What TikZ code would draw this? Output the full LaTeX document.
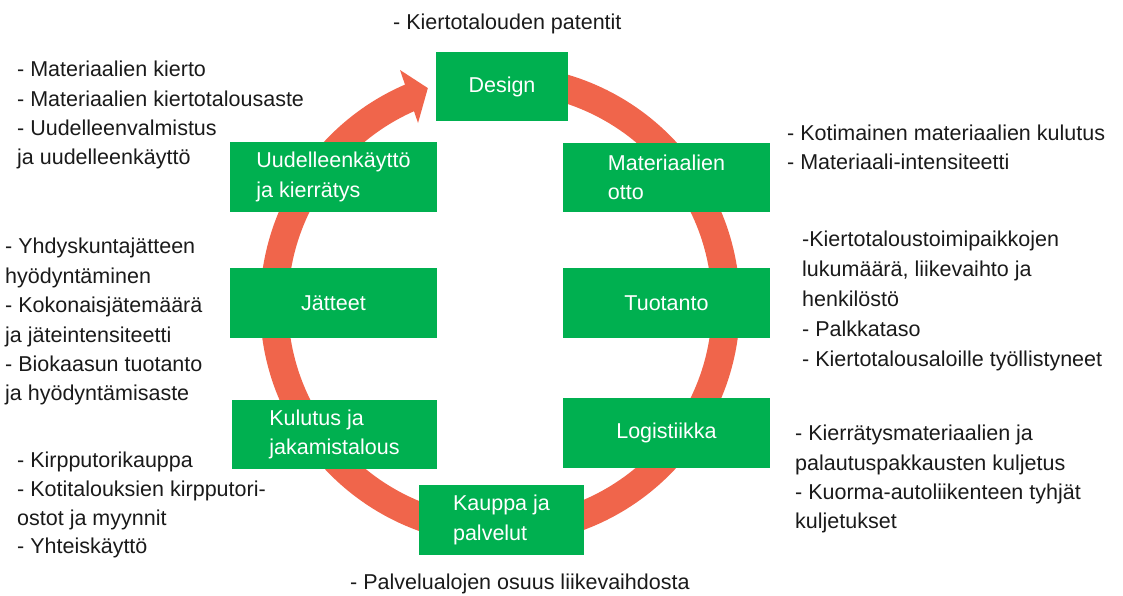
\documentclass[tikz,border=0pt]{standalone}
\usepackage{fontspec}
\setmainfont{Liberation Sans}
\definecolor{boxgreen}{HTML}{00B050}
\definecolor{ringcol}{HTML}{F0654B}
\definecolor{notecol}{HTML}{1A1A1A}
\begin{document}
\begin{tikzpicture}[x=1pt,y=1pt,
  font=\fontsize{21.5}{29.4}\selectfont,
  box/.style={fill=boxgreen, text=white, inner sep=0pt, align=left,
              minimum width=207pt, minimum height=70pt},
  note/.style={anchor=base west, align=left, inner sep=0pt, text=notecol},
  ring/.style={draw=ringcol, line width=28pt}]
\useasboundingbox (0,0) rectangle (1123,596);

% circular flow arrow
\coordinate (c) at (500,291);
\draw[ring] ([shift={(92:226)}]c) arc[start angle=92, end angle=-246.8, radius=226];
\fill[ringcol] ([shift={(113.05:255.4)}]c) -- ([shift={(108.4:228.6)}]c)
  -- ([shift={(114.25:199.6)}]c) -- cycle;

% stage boxes
\node[box, minimum width=132pt, minimum height=69pt] (design) at (502,509.5) {Design};
\node[box] (reuse) at (333.5,419) {Uudelleenkäyttö\\ja kierrätys};
\node[box, minimum height=69pt] (extract) at (666.5,418.5) {Materiaalien\\otto};
\node[box] (waste) at (333.5,293) {Jätteet};
\node[box] (prod) at (666.5,293) {Tuotanto};
\node[box, minimum width=205pt, minimum height=69pt] (consume) at (334.5,161.5) {Kulutus ja\\jakamistalous};
\node[box] (logi) at (666.5,163) {Logistiikka};
\node[box, minimum width=165pt] (trade) at (501.5,76) {Kauppa ja\\palvelut};

% indicator notes (anchored at the baseline of their last line)
\node[note] (n1) at (393,566) {- Kiertotalouden patentit};
\node[note] (n2) at (17,431) {- Materiaalien kierto\\- Materiaalien kiertotalousaste\\- Uudelleenvalmistus\\ja uudelleenkäyttö};
\node[note] (n3) at (5,195) {- Yhdyskuntajätteen\\hyödyntäminen\\- Kokonaisjätemäärä\\ja jäteintensiteetti\\- Biokaasun tuotanto\\ja hyödyntämisaste};
\node[note, font=\fontsize{21.5}{28.7}\selectfont] (n4) at (17,42) {- Kirpputorikauppa\\- Kotitalouksien kirpputori-\\ostot ja myynnit\\- Yhteiskäyttö};
\node[note] (n5) at (787,426) {- Kotimainen materiaalien kulutus\\- Materiaali-intensiteetti};
\node[note, font=\fontsize{21.5}{30}\selectfont] (n6) at (802,229) {-Kiertotaloustoimipaikkojen\\lukumäärä, liikevaihto ja\\henkilöstö\\- Palkkataso\\- Kiertotalousaloille työllistyneet};
\node[note] (n7) at (795,67) {- Kierrätysmateriaalien ja\\palautuspakkausten kuljetus\\- Kuorma-autoliikenteen tyhjät\\kuljetukset};
\node[note] (n8) at (350,6) {- Palvelualojen osuus liikevaihdosta};
\end{tikzpicture}
\end{document}
